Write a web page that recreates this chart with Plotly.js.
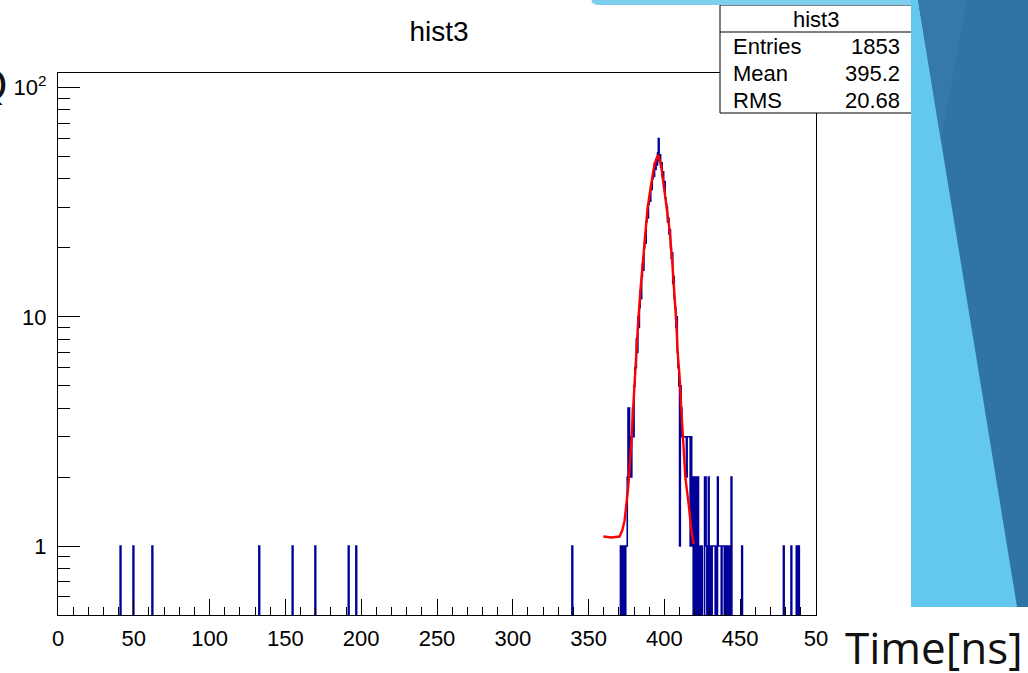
<!DOCTYPE html>
<html>
<head>
<meta charset="utf-8">
<script src="https://cdn.plot.ly/plotly-3.0.1.min.js"></script>
<style>html,body{margin:0;padding:0;background:#fff;}#chart{width:1028px;height:673px;}</style>
</head>
<body>
<div id="chart"></div>
<script>
// ---- histogram definition (hist3: 1000 bins, 0..500 ns) ----
const histMin = 0;
const histMax = 500;
const binWidth = 0.5;

// sparse single-entry bins (bin low edges, ns) and their counts
const sparseBins = [41.0, 49.5, 62.0, 132.5, 154.5, 169.5, 191.5, 196.5, 339.0,
  420.5, 421.0, 422.0, 423.0, 424.5, 426.5, 427.0, 427.5, 429.0, 430.0, 431.5, 432.0,
  432.5, 433.0, 434.0, 435.0, 435.5, 436.0, 436.5, 437.0, 438.0, 438.5, 439.0, 440.0,
  441.0, 442.0, 443.5, 444.0, 451.0, 478.5, 483.5, 487.0, 488.5];
const sparseCounts = [1, 1, 1, 1, 1, 1, 1, 1, 1,
  2, 1, 2, 1, 1, 2, 2, 1, 2, 1, 1, 1,
  1, 1, 1, 2, 1, 1, 1, 1, 1, 1, 1, 1,
  1, 1, 1, 2, 1, 1, 1, 1, 1];

// peak region: consecutive bins starting at 370.0 ns
const peakStart = 370.0;
const peakCounts = [
  0, 0, 1, 0, 1, 0, 1, 1, 0, 1,
  1, 2, 4, 4, 2, 3, 2, 3, 4, 3,
  5, 6, 6, 8, 7, 10, 9, 11, 13, 12,
  15, 17, 16, 20, 22, 21, 26, 28, 27, 31,
  33, 32, 37, 36, 40, 43, 41, 47, 44, 49,
  46, 52, 60, 48, 51, 45, 47, 41, 43, 37,
  39, 33, 31, 30, 26, 27, 23, 24, 20, 18,
  19, 14, 15, 12, 11, 9, 10, 7, 6, 5,
  1, 5, 4, 3, 3, 3, 3, 3, 3, 2,
  3, 3, 3, 3, 1, 3, 2, 1, 0, 2];

// fit curve (ns, value)
const fitX = [359.7, 365.0, 370.4, 372.2, 373.7, 374.8, 375.9, 376.6, 377.8, 378.4, 379.3, 380.4,
  381.9, 382.6, 384.1, 385.9, 387.9, 388.9, 391.2, 393.4, 395.8, 397.8, 399.5, 401.3, 403.4,
  405.0, 406.6, 407.9, 408.7, 410.1, 411.2, 412.3, 413.8, 416.0, 417.8, 419.3];
const fitY = [1.10, 1.09, 1.10, 1.17, 1.29, 1.47, 1.74, 2.0, 2.52, 2.97, 3.89, 5.43,
  7.6, 9.3, 12.9, 18.1, 25.3, 29.9, 37.7, 46.2, 51, 46, 37.7, 29.9, 24,
  18.1, 12.9, 9.3, 7.1, 5.4, 3.9, 2.78, 2.0, 1.52, 1.17, 1.02];

// axis ticks
const xTickVals = [0, 50, 100, 150, 200, 250, 300, 350, 400, 450, 500];
const xTickText = ['0', '50', '100', '150', '200', '250', '300', '350', '400', '450', '50'];
const yTickVals = [1, 10, 100];
const yTickText = ['1', '10', '10<sup>2</sup>'];
const yMinorVals = [0.6, 0.7, 0.8, 0.9, 2, 3, 4, 5, 6, 7, 8, 9, 20, 30, 40, 50, 60, 70, 80, 90];

// stats box
const statsTitle = 'hist3';
const statsNames = ['Entries', 'Mean', 'RMS'];
const statsValues = ['1853', '395.2', '20.68'];

// ---- build full bin contents ----
const nBins = Math.round((histMax - histMin) / binWidth);
const contents = new Array(nBins).fill(0);
sparseBins.forEach((b, i) => { contents[Math.round((b - histMin) / binWidth)] += sparseCounts[i]; });
peakCounts.forEach((c, i) => { contents[Math.round((peakStart - histMin) / binWidth) + i] += c; });
const stepX = [], stepY = [];
for (let i = 0; i < nBins; i++) {
  stepX.push(histMin + i * binWidth);
  stepY.push(contents[i] > 0 ? contents[i] : 0.01);
}
stepX.push(histMax); stepY.push(stepY[stepY.length - 1]);

// ---- pixel helpers for decorations ----
const L = 58, R = 212, T = 73, B = 58, W = 1028, H = 673;
const pw = W - L - R, ph = H - T - B;
const px = x => (x - L) / pw;
const py = y => (H - B - y) / ph;

const rootFont = 'Liberation Sans, Arial, sans-serif';

const traces = [
  { x: stepX, y: stepY, type: 'scatter', mode: 'lines',
    line: { shape: 'hv', color: '#000099', width: 1.6 }, hoverinfo: 'skip', showlegend: false },
  { x: fitX, y: fitY, type: 'scatter', mode: 'lines',
    line: { color: '#ff0000', width: 2.4 }, hoverinfo: 'skip', showlegend: false }
];

const shapes = [
  // stats box
  { type: 'rect', xref: 'paper', yref: 'paper', x0: px(720), x1: px(916), y0: py(113), y1: py(5),
    fillcolor: '#ffffff', line: { color: '#000', width: 1 }, layer: 'above' },
  { type: 'line', xref: 'paper', yref: 'paper', x0: px(720), x1: px(916), y0: py(32), y1: py(32),
    line: { color: '#000', width: 1 } },
  // slide decorations
  { type: 'path', xref: 'paper', yref: 'paper',
    path: `M ${px(592)} ${py(0)} L ${px(920)} ${py(0)} L ${px(920)} ${py(5)} L ${px(597)} ${py(5)} Q ${px(590)} ${py(3)} ${px(592)} ${py(0)} Z`,
    fillcolor: '#7cd0ee', line: { width: 0 } },
  { type: 'path', xref: 'paper', yref: 'paper',
    path: `M ${px(911)} ${py(0)} L ${px(1028)} ${py(0)} L ${px(1028)} ${py(607)} L ${px(911)} ${py(607)} Z`,
    fillcolor: '#63c8ec', line: { width: 0 } },
  { type: 'path', xref: 'paper', yref: 'paper',
    path: `M ${px(918)} ${py(0)} L ${px(1028)} ${py(0)} L ${px(1028)} ${py(607)} L ${px(1017)} ${py(607)} Z`,
    fillcolor: '#2f74a4', line: { width: 0 } },
  { type: 'path', xref: 'paper', yref: 'paper',
    path: `M ${px(918)} ${py(0)} L ${px(967)} ${py(0)} L ${px(941)} ${py(140)} Z`,
    fillcolor: '#3479a9', line: { width: 0 } }
];

const annotations = [
  { xref: 'paper', yref: 'paper', x: px(816), y: py(19), text: statsTitle, showarrow: false,
    xanchor: 'center', yanchor: 'middle', font: { family: rootFont, size: 22, color: '#000' } }
];
statsNames.forEach((n, i) => {
  const yc = 47 + i * 26.5;
  annotations.push({ xref: 'paper', yref: 'paper', x: px(731), y: py(yc), text: n, showarrow: false,
    xanchor: 'left', yanchor: 'middle', font: { family: rootFont, size: 22, color: '#000' } });
  annotations.push({ xref: 'paper', yref: 'paper', x: px(902), y: py(yc), text: statsValues[i], showarrow: false,
    xanchor: 'right', yanchor: 'middle', font: { family: rootFont, size: 22, color: '#000' } });
});
annotations.push({ xref: 'paper', yref: 'paper', x: px(1024), y: py(647), text: 'Time[ns]', showarrow: false,
  xanchor: 'right', yanchor: 'middle', borderpad: 0,
  font: { family: 'Open Sans, Noto Sans, sans-serif', size: 44, color: '#111' } });
annotations.push({ xref: 'paper', yref: 'paper', x: px(8), y: py(86), text: 'Q', showarrow: false,
  xanchor: 'right', yanchor: 'middle', borderpad: 0,
  font: { family: 'DejaVu Sans, sans-serif', size: 40, color: '#111' } });

const layout = {
  width: W, height: H,
  margin: { l: L, r: R, t: T, b: B, pad: 0 },
  paper_bgcolor: '#ffffff', plot_bgcolor: '#ffffff',
  showlegend: false,
  title: { text: 'hist3', x: 0.427, xanchor: 'center', y: 1 - 31 / H, yanchor: 'middle',
    font: { family: rootFont, size: 28, color: '#000' } },
  xaxis: {
    range: [histMin, histMax], showgrid: false, zeroline: false,
    showline: true, linecolor: '#000', linewidth: 1, mirror: true,
    ticks: 'inside', ticklen: 16, tickwidth: 1, tickcolor: '#000',
    tickmode: 'array', tickvals: xTickVals, ticktext: xTickText,
    ticklabelstandoff: 4,
    minor: { dtick: 10, ticks: 'inside', ticklen: 8, tickcolor: '#000', showgrid: false },
    tickfont: { family: rootFont, size: 22, color: '#000' }
  },
  yaxis: {
    type: 'log', range: [Math.log10(0.5), Math.log10(116)], showgrid: false, zeroline: false,
    showline: true, linecolor: '#000', linewidth: 1, mirror: true,
    ticks: 'inside', ticklen: 22, tickwidth: 1, tickcolor: '#000',
    tickmode: 'array', tickvals: yTickVals, ticktext: yTickText,
    ticklabelstandoff: 6,
    minor: { tickmode: 'array', tickvals: yMinorVals, ticks: 'inside', ticklen: 12, tickcolor: '#000', showgrid: false },
    tickfont: { family: rootFont, size: 22, color: '#000' }
  },
  shapes: shapes,
  annotations: annotations
};

Plotly.newPlot('chart', traces, layout, { staticPlot: true, displayModeBar: false });
</script>
</body>
</html>
